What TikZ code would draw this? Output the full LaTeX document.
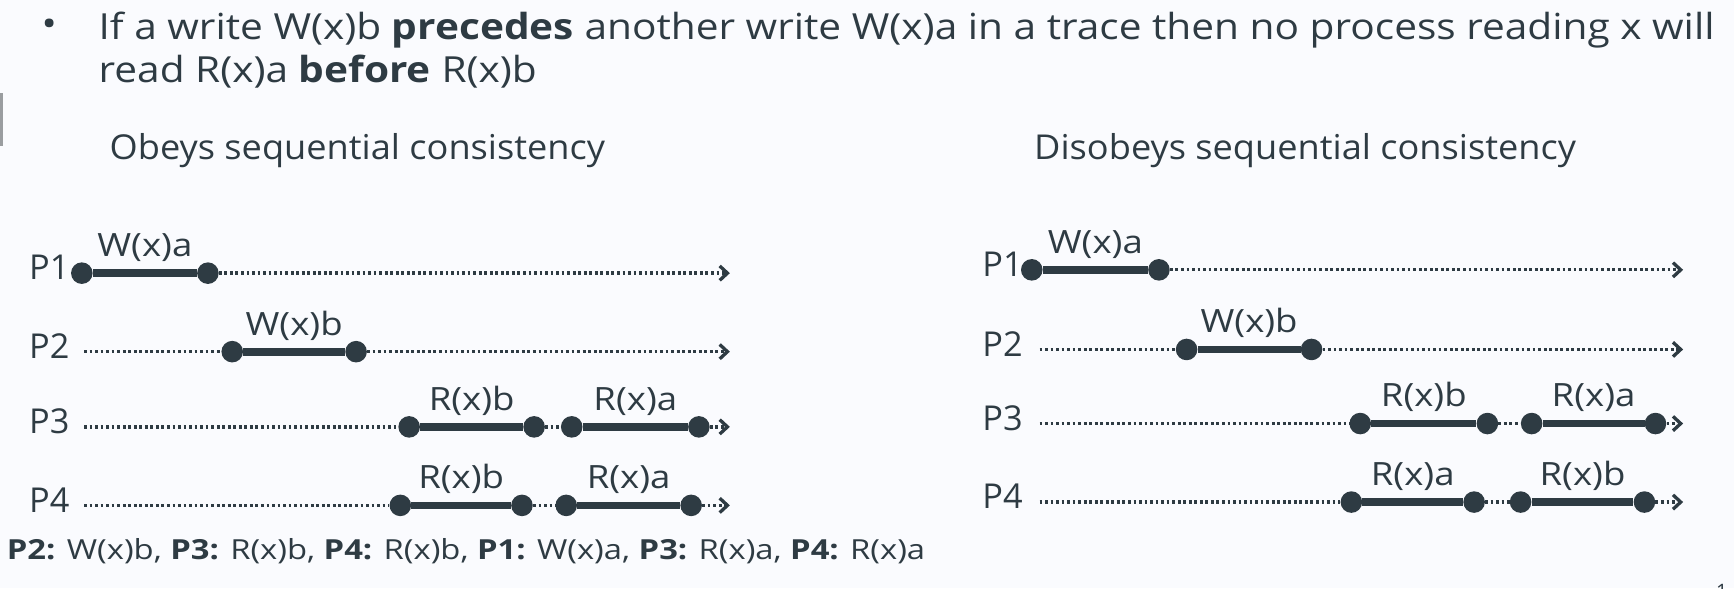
\documentclass[tikz,border=0pt]{standalone}
\usepackage{fontspec}
\setmainfont{Open Sans}
\newfontfamily\bigfont[FakeStretch=1.13]{Open Sans}
\newfontfamily\titfont[FakeStretch=1.055]{Open Sans}
\newfontfamily\labfont[FakeStretch=1.14]{Open Sans}
\newfontfamily\smlfont[FakeStretch=1.185]{Open Sans}
\usetikzlibrary{arrows.meta}
\definecolor{ink}{HTML}{2E3B43}
\definecolor{bg}{HTML}{FAFBFE}
\definecolor{barc}{HTML}{9A9DA0}
\begin{document}
\begin{tikzpicture}[x=1pt,y=-1pt,
  ev/.style={circle,fill=ink,inner sep=0pt,minimum size=19.5pt},
  opseg/.style={draw=ink,line width=7pt},
  tline/.style={draw=ink,line width=3pt,dash pattern=on 2.5pt off 2.5pt},
  tarrow/.style={tline,-{Straight Barb[length=7pt,width=13pt,line width=3pt]}},
  plabel/.style={font=\fontsize{31}{36}\selectfont,text=ink,anchor=base east,inner sep=0pt},
  evlabel/.style={font={\labfont\fontsize{29}{34}\selectfont},text=ink,anchor=base,inner sep=0pt,yshift=15pt},
  bigtext/.style={font={\bigfont\fontsize{32.5}{38}\selectfont},text=ink,anchor=base west,inner sep=0pt},
  titletext/.style={font={\titfont\fontsize{31}{36}\selectfont},text=ink,anchor=base west,inner sep=0pt},
  smalltext/.style={font={\smlfont\fontsize{25}{30}\selectfont},text=ink,anchor=base west,inner sep=0pt}
]
\fill[bg] (0,0) rectangle (1568,532);
\useasboundingbox (0,0) rectangle (1568,532);
\fill[barc] (0,84) rectangle (2.5,132);

% header
\node[bigtext,anchor=base] (bul) at (44.5,33) {•};
\node[bigtext] (l1) at (89,36) {If a write W(x)b \textbf{precedes} another write W(x)a in a trace then no process reading x will};
\node[bigtext] (l2) at (89,75) {read R(x)a \textbf{before} R(x)b};
\node[titletext] (tl) at (99,144) {Obeys sequential consistency};
\node[titletext] (tr) at (935,144) {Disobeys sequential consistency};

% ---------- left diagram ----------
\node[plabel] (LP1) at (63,253) {P1};
\node[plabel] (LP2) at (63,324) {P2};
\node[plabel] (LP3) at (63,392) {P3};
\node[plabel] (LP4) at (63,463) {P4};
\coordinate (L2s) at (76,318);
\coordinate (L3s) at (76,386);
\coordinate (L4s) at (76,457);
\coordinate (L1e) at (660,247);
\coordinate (L2e) at (660,318);
\coordinate (L3e) at (660,386);
\coordinate (L4e) at (660,457);

\node[ev] (a1) at (74,247) {};
\node[ev] (a2) at (188,247) {};
\node[ev] (b1) at (210,318) {};
\node[ev] (b2) at (322,318) {};
\node[ev] (c1) at (370,386) {};
\node[ev] (c2) at (483,386) {};
\node[ev] (c3) at (517,386) {};
\node[ev] (c4) at (632,386) {};
\node[ev] (d1) at (362,457) {};
\node[ev] (d2) at (472,457) {};
\node[ev] (d3) at (512,457) {};
\node[ev] (d4) at (625,457) {};

\draw[opseg] (a1) -- node[evlabel] {W(x)a} (a2);
\draw[tarrow] (a2) -- (L1e);
\draw[tline] (L2s) -- (b1);
\draw[opseg] (b1) -- node[evlabel] {W(x)b} (b2);
\draw[tarrow] (b2) -- (L2e);
\draw[tline] (L3s) -- (c1);
\draw[opseg] (c1) -- node[evlabel] {R(x)b} (c2);
\draw[tline] (c2) -- (c3);
\draw[opseg] (c3) -- node[evlabel] {R(x)a} (c4);
\draw[tarrow] (c4) -- (L3e);
\draw[tline] (L4s) -- (d1);
\draw[opseg] (d1) -- node[evlabel] {R(x)b} (d2);
\draw[tline] (d2) -- (d3);
\draw[opseg] (d3) -- node[evlabel] {R(x)a} (d4);
\draw[tarrow] (d4) -- (L4e);

% ---------- right diagram ----------
\node[plabel] (RP1) at (925,250) {P1};
\node[plabel] (RP2) at (925,322) {P2};
\node[plabel] (RP3) at (925,389) {P3};
\node[plabel] (RP4) at (925,460) {P4};
\coordinate (R2s) at (940,316);
\coordinate (R3s) at (940,383);
\coordinate (R4s) at (940,454);
\coordinate (R1e) at (1522,244);
\coordinate (R2e) at (1522,316);
\coordinate (R3e) at (1522,383);
\coordinate (R4e) at (1522,454);

\node[ev] (e1) at (933,244) {};
\node[ev] (e2) at (1048,244) {};
\node[ev] (f1) at (1073,316) {};
\node[ev] (f2) at (1186,316) {};
\node[ev] (g1) at (1230,383) {};
\node[ev] (g2) at (1345,383) {};
\node[ev] (g3) at (1385,383) {};
\node[ev] (g4) at (1497,383) {};
\node[ev] (h1) at (1222,454) {};
\node[ev] (h2) at (1333,454) {};
\node[ev] (h3) at (1375,454) {};
\node[ev] (h4) at (1487,454) {};

\draw[opseg] (e1) -- node[evlabel] {W(x)a} (e2);
\draw[tarrow] (e2) -- (R1e);
\draw[tline] (R2s) -- (f1);
\draw[opseg] (f1) -- node[evlabel] {W(x)b} (f2);
\draw[tarrow] (f2) -- (R2e);
\draw[tline] (R3s) -- (g1);
\draw[opseg] (g1) -- node[evlabel] {R(x)b} (g2);
\draw[tline] (g2) -- (g3);
\draw[opseg] (g3) -- node[evlabel] {R(x)a} (g4);
\draw[tarrow] (g4) -- (R3e);
\draw[tline] (R4s) -- (h1);
\draw[opseg] (h1) -- node[evlabel] {R(x)a} (h2);
\draw[tline] (h2) -- (h3);
\draw[opseg] (h3) -- node[evlabel] {R(x)b} (h4);
\draw[tarrow] (h4) -- (R4e);

% bottom text
\node[smalltext] (seq) at (6,506) {\textbf{P2:} W(x)b, \textbf{P3:} R(x)b, \textbf{P4:} R(x)b, \textbf{P1:} W(x)a, \textbf{P3:} R(x)a, \textbf{P4:} R(x)a};
\node[font=\fontsize{18}{20}\selectfont,text=ink,anchor=base,inner sep=0pt] (pg) at (1557,541) {1};
\end{tikzpicture}
\end{document}
